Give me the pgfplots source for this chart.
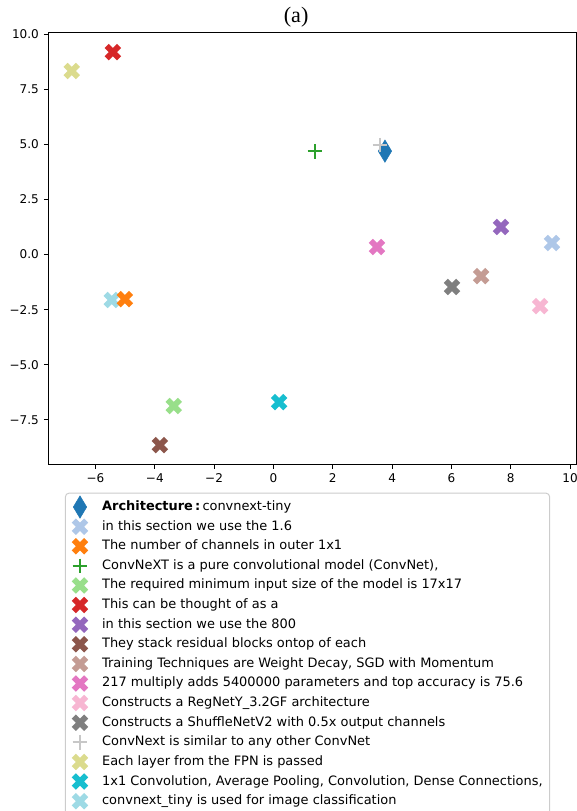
\documentclass[border=0pt]{standalone}
\usepackage{fontspec}
\setmainfont{DejaVu Sans}
\newfontfamily\titlefont{Liberation Serif}
\usepackage{pgfplots}
\pgfplotsset{compat=1.18}

\definecolor{c0}{HTML}{1F77B4}
\definecolor{c1}{HTML}{AEC7E8}
\definecolor{c2}{HTML}{FF7F0E}
\definecolor{c3}{HTML}{2CA02C}
\definecolor{c4}{HTML}{98DF8A}
\definecolor{c5}{HTML}{D62728}
\definecolor{c6}{HTML}{9467BD}
\definecolor{c7}{HTML}{8C564B}
\definecolor{c8}{HTML}{C49C94}
\definecolor{c9}{HTML}{E377C2}
\definecolor{c10}{HTML}{F7B6D2}
\definecolor{c11}{HTML}{7F7F7F}
\definecolor{c12}{HTML}{C7C7C7}
\definecolor{c13}{HTML}{DBDB8D}
\definecolor{c14}{HTML}{17BECF}
\definecolor{c15}{HTML}{9EDAE5}

\pgfdeclareplotmark{Xfill}{%
  \pgftransformrotate{45}%
  \pgfpathmoveto{\pgfpoint{-0.3333\pgfplotmarksize}{-\pgfplotmarksize}}%
  \pgfpathlineto{\pgfpoint{-0.3333\pgfplotmarksize}{-0.3333\pgfplotmarksize}}%
  \pgfpathlineto{\pgfpoint{-\pgfplotmarksize}{-0.3333\pgfplotmarksize}}%
  \pgfpathlineto{\pgfpoint{-\pgfplotmarksize}{0.3333\pgfplotmarksize}}%
  \pgfpathlineto{\pgfpoint{-0.3333\pgfplotmarksize}{0.3333\pgfplotmarksize}}%
  \pgfpathlineto{\pgfpoint{-0.3333\pgfplotmarksize}{\pgfplotmarksize}}%
  \pgfpathlineto{\pgfpoint{0.3333\pgfplotmarksize}{\pgfplotmarksize}}%
  \pgfpathlineto{\pgfpoint{0.3333\pgfplotmarksize}{0.3333\pgfplotmarksize}}%
  \pgfpathlineto{\pgfpoint{\pgfplotmarksize}{0.3333\pgfplotmarksize}}%
  \pgfpathlineto{\pgfpoint{\pgfplotmarksize}{-0.3333\pgfplotmarksize}}%
  \pgfpathlineto{\pgfpoint{0.3333\pgfplotmarksize}{-0.3333\pgfplotmarksize}}%
  \pgfpathlineto{\pgfpoint{0.3333\pgfplotmarksize}{-\pgfplotmarksize}}%
  \pgfpathclose
  \pgfusepathqfill
}

\pgfplotsset{
  myleg/.style={legend image code/.code={%
    \path[draw=none, fill=none] (0pt,-3pt) rectangle (15pt,3pt);
    \pgfinterruptboundingbox
    \draw[sharp corners, line width=0.4pt, ##1] plot coordinates {(7.5pt,0pt)};
    \endpgfinterruptboundingbox}},
  xm/.style={only marks, mark=Xfill, mark size=6.3bp, color=#1, myleg},
  pm/.style={only marks, mark=+, mark size=5.3bp, line width=1.2bp, mark options={line width=1.2bp}, color=#1, myleg},
}

\begin{document}
\begin{tikzpicture}
\begin{axis}[
  scale only axis,
  width=380.16bp, height=311.33bp,
  xmin=-7.6, xmax=10.2, ymin=-9.53, ymax=10.08,
  xtick={-6,-4,-2,0,2,4,6,8,10},
  xticklabels={−6,−4,−2,0,2,4,6,8,10},
  ytick={-7.5,-5,-2.5,0,2.5,5,7.5,10},
  yticklabels={−7.5,−5.0,−2.5,0.0,2.5,5.0,7.5,10.0},
  tick label style={font=\fontsize{8.7}{10}\selectfont},
  xtick pos=bottom, ytick pos=left,
  tick align=outside,
  major tick length=3.05bp,
  tick style={line width=0.7bp, black},
  axis line style={line width=0.7bp},
  clip=false,
  legend cell align=left,
  legend style={
    at={(0.4915,-0.0648)}, anchor=north,
    draw=black!20, rounded corners=2.5pt, line width=0.7pt, fill=white,
    font=\fontsize{9.35}{11}\selectfont,
    inner xsep=3pt, inner ysep=3pt,
    nodes={inner sep=2pt, text height=7.5pt, text depth=2.5pt},
    row sep=0.17pt, column sep=6.5pt,
  },
]
% light cyan drawn first (beneath orange)
\addplot[xm=c15, forget plot] coordinates {(-5.45,-2.06)};
\addplot[only marks, mark=diamond*, mark size=8bp, mark options={xscale=0.8}, color=c0, myleg] coordinates {(3.76,4.69)};
\addlegendentry{\textbf{Architecture\,:}\,convnext-tiny}
\addplot[xm=c1] coordinates {(9.39,0.52)};
\addlegendentry{in this section we use the 1.6}
\addplot[xm=c2] coordinates {(-5.01,-2.02)};
\addlegendentry{The number of channels in outer 1x1}
\addplot[pm=c3] coordinates {(1.40,4.69)};
\addlegendentry{ConvNeXT is a pure convolutional model (ConvNet),}
\addplot[xm=c4] coordinates {(-3.36,-6.87)};
\addlegendentry{The required minimum input size of the model is 17x17}
\addplot[xm=c5] coordinates {(-5.41,9.18)};
\addlegendentry{This can be thought of as a}
\addplot[xm=c6] coordinates {(7.67,1.25)};
\addlegendentry{in this section we use the 800}
\addplot[xm=c7] coordinates {(-3.83,-8.64)};
\addlegendentry{They stack residual blocks ontop of each}
\addplot[xm=c8] coordinates {(7.00,-0.98)};
\addlegendentry{Training Techniques are Weight Decay, SGD with Momentum}
\addplot[xm=c9] coordinates {(3.49,0.34)};
\addlegendentry{217 multiply adds 5400000 parameters and top accuracy is 75.6}
\addplot[xm=c10] coordinates {(8.99,-2.34)};
\addlegendentry{Constructs a RegNetY\_3.2GF architecture}
\addplot[xm=c11] coordinates {(6.02,-1.47)};
\addlegendentry{Constructs a ShuffleNetV2 with 0.5x output channels}
\addplot[pm=c12] coordinates {(3.59,4.97)};
\addlegendentry{ConvNext is similar to any other ConvNet}
\addplot[xm=c13] coordinates {(-6.80,8.32)};
\addlegendentry{Each layer from the FPN is passed}
\addplot[xm=c14] coordinates {(0.19,-6.69)};
\addlegendentry{1x1 Convolution, Average Pooling, Convolution, Dense Connections,}
\addlegendimage{xm=c15}
\addlegendentry{convnext\_tiny is used for image classification}
\node[anchor=base, font=\titlefont\fontsize{16}{16}\selectfont, inner sep=0pt] at (rel axis cs:0.47,1) [yshift=6.7bp] {(a)};
\end{axis}
\pgfresetboundingbox
\path[use as bounding box] (-34.56bp,-249.34bp) rectangle (380.88bp,334.58bp);
\end{tikzpicture}
\end{document}
